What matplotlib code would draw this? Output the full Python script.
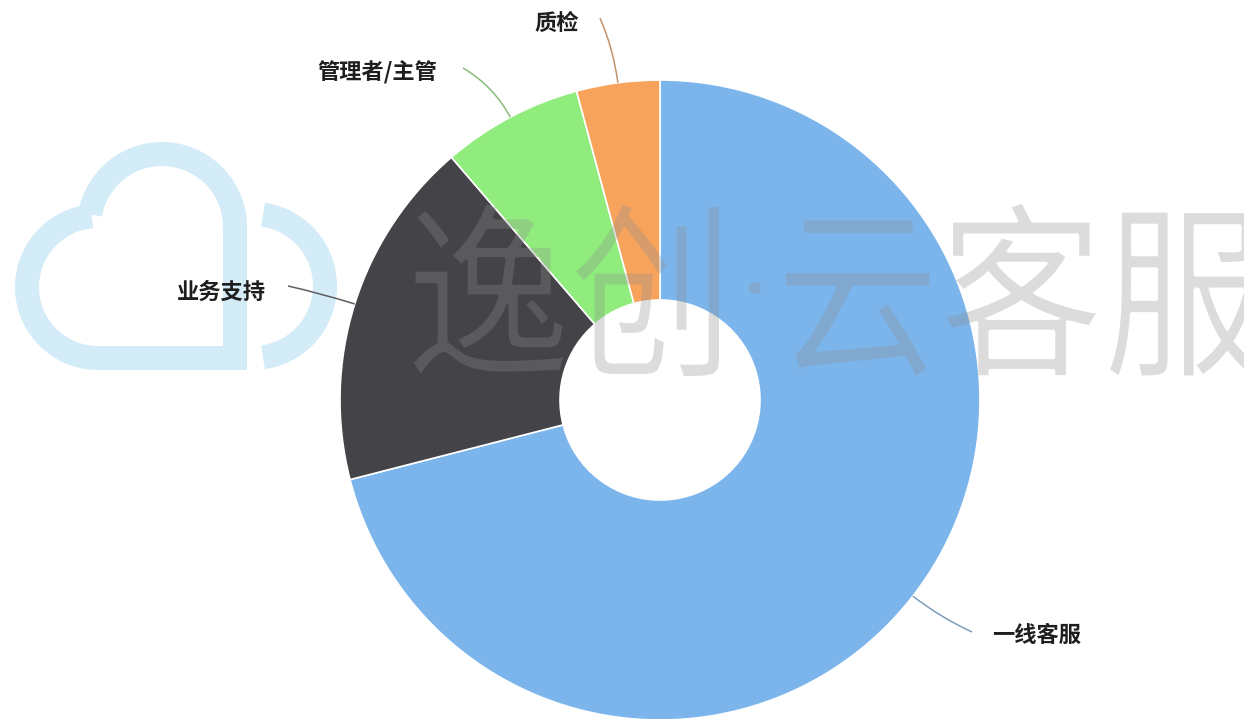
import numpy as np
import matplotlib
matplotlib.use("Agg")
import matplotlib.pyplot as plt
from matplotlib.patches import Arc, PathPatch, Circle
from matplotlib.path import Path
from matplotlib.textpath import TextPath
from matplotlib.font_manager import FontProperties
from matplotlib.transforms import Affine2D

plt.rcParams['font.family'] = ['Noto Sans CJK SC', 'DejaVu Sans']

# data
labels = ['一线客服', '业务支持', '管理者/主管', '质检']
values = [71.0, 17.7, 7.1, 4.2]
colors = ['#7cb5ec', '#434348', '#90ed7d', '#f7a35c']

# label layout in image pixels (text centre, connector end)
label_pos = [(1037, 635), (221, 292), (377, 73), (557, 24)]
conn_end = [(972, 632), (288, 286), (463, 68), (600, 18)]

W, H = 1245, 719
fig = plt.figure(figsize=(W / 100, H / 100), dpi=100)
ax = fig.add_axes([0, 0, 1, 1])

def Y(y):
    return H - y

cx, cy = 660, Y(400)
R, hole = 320, 100

wedges, _ = ax.pie(values, colors=colors, startangle=90, counterclock=False,
                   radius=R, center=(cx, cy),
                   wedgeprops=dict(width=R - hole, edgecolor='white', linewidth=1.2))

# cloud logo
cloud_c = '#d3ecf8'
lw = 24 * 0.72
ax.add_patch(Arc((98, Y(287)), 142, 142, theta1=95, theta2=272, color=cloud_c, lw=lw, zorder=0.5))
ax.add_patch(Arc((162, Y(227)), 146, 146, theta1=-1, theta2=170, color=cloud_c, lw=lw, zorder=0.5))
ax.plot([235, 235, 96], [Y(226), Y(358), Y(358)], color=cloud_c, lw=lw,
        solid_joinstyle='miter', solid_capstyle='butt', zorder=0.5)
ax.add_patch(Arc((253, Y(286)), 144, 144, theta1=-82, theta2=82, color=cloud_c, lw=lw, zorder=0.5))

# text watermark "逸创·云客服", thin grey letters
fp = FontProperties(family='Noto Sans CJK SC')

def fit_text(s, x0, x1, y0, y1):
    tp = TextPath((0, 0), s, size=100, prop=fp)
    e = tp.get_extents()
    tr = (Affine2D().translate(-e.x0, -e.y0)
          .scale((x1 - x0) / e.width, (y1 - y0) / e.height)
          .translate(x0, Y(y1)))
    return tr.transform_path(tp)

wm_paths = [fit_text('逸创', 413, 720, 203, 377), fit_text('云客服', 785, 1262, 203, 377)]

f2 = plt.figure(figsize=(W / 100, H / 100), dpi=100)
f2.patch.set_alpha(0)
a2 = f2.add_axes([0, 0, 1, 1])
a2.set_xlim(0, W)
a2.set_ylim(0, H)
a2.axis('off')
for p in wm_paths:
    a2.add_patch(PathPatch(p, facecolor='black', edgecolor='none'))
a2.add_patch(Circle((755, Y(288)), 7, facecolor='black', edgecolor='none'))
f2.canvas.draw()
mask = np.asarray(f2.canvas.buffer_rgba())[..., 3].astype(float) / 255
plt.close(f2)
# thin the strokes a little
mask = np.minimum.reduce([mask, np.roll(mask, 1, 0), np.roll(mask, -1, 0),
                          np.roll(mask, 1, 1), np.roll(mask, -1, 1)])
wm = np.zeros((mask.shape[0], mask.shape[1], 4))
wm[..., :3] = 142 / 255
wm[..., 3] = mask * 0.31
ax.imshow(wm, extent=(0, W, 0, H), origin='upper', interpolation='nearest', zorder=3)

# data labels with curved connectors
for w, lab, col, (tx, ty), (ex, ey) in zip(wedges, labels, colors, label_pos, conn_end):
    mid = np.deg2rad((w.theta1 + w.theta2) / 2)
    p0 = (cx + R * np.cos(mid), cy + R * np.sin(mid))
    p1 = (cx + (R + 35) * np.cos(mid), cy + (R + 35) * np.sin(mid))
    path = Path([p0, p1, (ex, Y(ey))], [Path.MOVETO, Path.CURVE3, Path.CURVE3])
    rgb = np.array(matplotlib.colors.to_rgb(col)) * 0.55 + 0.45 * 0.5
    ax.add_patch(PathPatch(path, facecolor='none', edgecolor=rgb, lw=1.1, zorder=4))
    ax.text(tx, Y(ty), lab, ha='center', va='center', fontsize=16,
            fontweight='bold', color='#1e1e1e', zorder=5)

ax.set_xlim(0, W)
ax.set_ylim(0, H)
ax.set_aspect('auto')
ax.axis('off')

plt.savefig('out.png', dpi=100)
plt.close()
